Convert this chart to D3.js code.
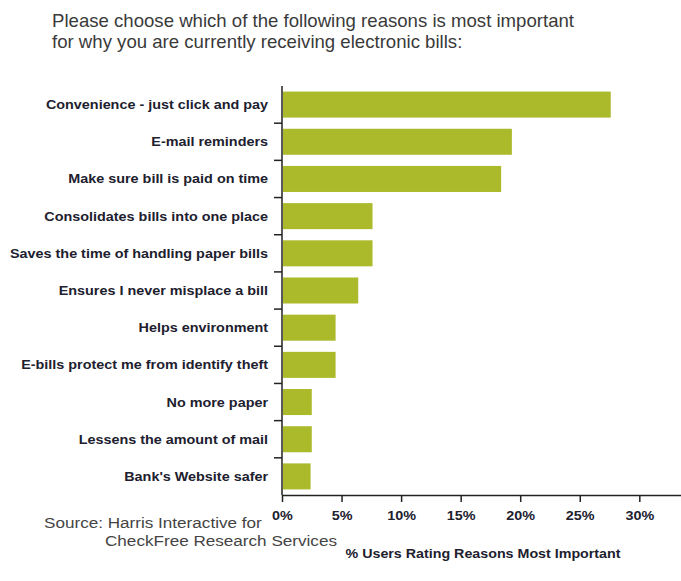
<!DOCTYPE html>
<html>
<head>
<meta charset="utf-8">
<script src="https://cdn.jsdelivr.net/npm/d3@7"></script>
<style>
  body { margin: 0; background: #fff; }
</style>
</head>
<body>
<div id="container"></div>
<script>
// data
const reasons = [
  "Convenience - just click and pay",
  "E-mail reminders",
  "Make sure bill is paid on time",
  "Consolidates bills into one place",
  "Saves the time of handling paper bills",
  "Ensures I never misplace a bill",
  "Helps environment",
  "E-bills protect me from identify theft",
  "No more paper",
  "Lessens the amount of mail",
  "Bank's Website safer"
];
const shares = [27.6, 19.3, 18.4, 7.6, 7.6, 6.4, 4.5, 4.5, 2.5, 2.5, 2.4];
const xTicks = [0, 5, 10, 15, 20, 25, 30];
const titleLines = [
  "Please choose which of the following reasons is most important",
  "for why you are currently receiving electronic bills:"
];
const sourceLines = ["Source: Harris Interactive for", "CheckFree Research Services"];
const xLabel = "% Users Rating Reasons Most Important";

const W = 681, H = 581;
const margin = { top: 86, right: 0, bottom: 86, left: 282 };
const width = W - margin.left - margin.right;
const height = H - margin.top - margin.bottom;

const data = reasons.map((r, i) => ({ reason: r, value: shares[i] }));

const svg = d3.create("svg")
  .attr("width", W)
  .attr("height", H)
  .style("font-family", "'Liberation Sans', Arial, sans-serif");

document.getElementById("container").append(svg.node());

// squeeze / stretch a group of texts so that the widest one spans `target` px
function fitTexts(sel, target) {
  const nodes = sel.nodes();
  const widest = d3.max(nodes, n => n.getComputedTextLength());
  const k = target / widest;
  nodes.forEach(n => {
    n.setAttribute("textLength", n.getComputedTextLength() * k);
    n.setAttribute("lengthAdjust", "spacingAndGlyphs");
  });
  return k;
}

// title
const title = svg.append("g")
  .selectAll("text")
  .data(titleLines)
  .join("text")
  .attr("x", 52)
  .attr("y", (d, i) => 27 + i * 21)
  .style("font-size", "18.5px")
  .style("fill", "#3a3a3a")
  .text(d => d);
fitTexts(title, 522);

const g = svg.append("g")
  .attr("transform", `translate(${margin.left}, ${margin.top})`);

const x = d3.scaleLinear()
  .domain([0, 33.5])
  .range([0, width]);

const padding = 0.3;
const y = d3.scaleBand()
  .domain(reasons)
  .range([0, height])
  .paddingInner(padding)
  .paddingOuter(padding / 2);

// bars
g.selectAll("rect.bar")
  .data(data)
  .join("rect")
  .attr("class", "bar")
  .attr("x", 1)
  .attr("y", d => y(d.reason))
  .attr("width", d => x(d.value) - 1)
  .attr("height", y.bandwidth())
  .attr("fill", "#abba2b");

// category labels
const cats = g.selectAll("text.cat")
  .data(reasons)
  .join("text")
  .attr("class", "cat")
  .attr("x", -14)
  .attr("y", d => y(d) + y.bandwidth() / 2)
  .attr("dy", "0.36em")
  .attr("text-anchor", "end")
  .style("font-size", "12.5px")
  .style("font-weight", "bold")
  .style("fill", "#20202e")
  .text(d => d);
const kLab = fitTexts(cats, 258);

// ticks between categories on the left axis
const gap = y.step() * padding / 2;
g.selectAll("line.sep")
  .data(reasons.slice(1))
  .join("line")
  .attr("class", "sep")
  .attr("x1", -8)
  .attr("x2", 0)
  .attr("y1", d => y(d) - gap)
  .attr("y2", d => y(d) - gap)
  .attr("stroke", "#222")
  .attr("stroke-width", 1.5);

// left axis line
g.append("line")
  .attr("x1", 0).attr("x2", 0)
  .attr("y1", 0).attr("y2", height)
  .attr("stroke", "#222")
  .attr("stroke-width", 1.5);

// x axis
const xAxis = g.append("g")
  .attr("transform", `translate(0, ${height})`)
  .call(d3.axisBottom(x)
    .tickValues(xTicks)
    .tickFormat(d => d + "%")
    .tickSize(7)
    .tickSizeOuter(0)
    .tickPadding(9));

xAxis.select(".domain").attr("stroke", "#222").attr("stroke-width", 1.5);
xAxis.selectAll(".tick line").attr("stroke", "#222").attr("stroke-width", 1.5);
const tickText = xAxis.selectAll(".tick text")
  .style("font-family", "'Liberation Sans', Arial, sans-serif")
  .style("font-size", "12.5px")
  .style("font-weight", "bold")
  .style("fill", "#20202e");
tickText.each(function () {
  this.setAttribute("textLength", this.getComputedTextLength() * kLab);
  this.setAttribute("lengthAdjust", "spacingAndGlyphs");
});

// x axis title
const xTitle = g.append("text")
  .attr("x", 201)
  .attr("y", height + 63)
  .attr("text-anchor", "middle")
  .style("font-size", "13.5px")
  .style("font-weight", "bold")
  .style("fill", "#20202e")
  .text(xLabel);
fitTexts(xTitle, 275);

// source note
const src = svg.append("g")
  .selectAll("text")
  .data(sourceLines)
  .join("text")
  .attr("x", (d, i) => i === 0 ? 44 : 105)
  .attr("y", (d, i) => 528 + i * 18)
  .style("font-size", "14px")
  .style("fill", "#444")
  .text(d => d);
fitTexts(src, 232);
</script>
</body>
</html>
